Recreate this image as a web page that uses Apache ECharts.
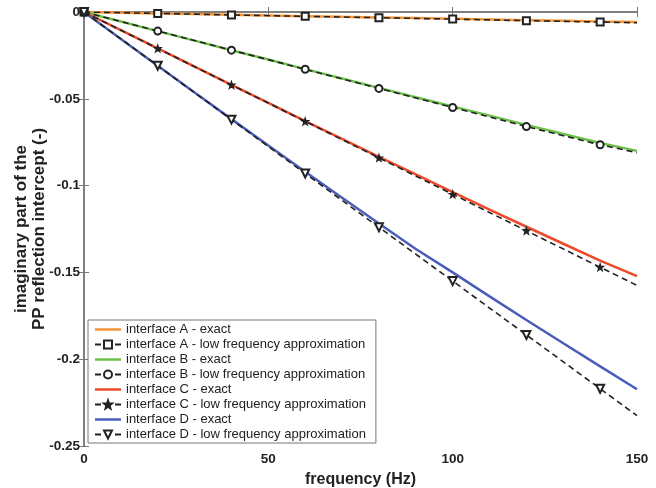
<!DOCTYPE html>
<html>
<head>
<meta charset="utf-8">
<script src="https://cdn.jsdelivr.net/npm/echarts@6/dist/echarts.min.js"></script>
<style>
  html, body { margin: 0; padding: 0; background: #fff; }
  #chart { width: 656px; height: 488px; }
</style>
</head>
<body>
<div id="chart"></div>
<script>
var freqExact = [0, 10, 20, 30, 40, 50, 60, 70, 80, 90, 100, 110, 120, 130, 140, 150];
var freqApprox = [0, 20, 40, 60, 80, 100, 120, 140, 150];

var exactA = [0, -0.0004, -0.0008, -0.0012, -0.0016, -0.002, -0.0024, -0.0028, -0.0031, -0.0035, -0.0039, -0.0043, -0.0047, -0.0051, -0.0055, -0.0058];
var approxA = [0, -0.0008, -0.0017, -0.0025, -0.0033, -0.0041, -0.005, -0.0058, -0.0062];
var exactB = [0, -0.0055, -0.011, -0.0165, -0.022, -0.0274, -0.0329, -0.0383, -0.0437, -0.0491, -0.0544, -0.0597, -0.065, -0.0703, -0.0755, -0.080];
var approxB = [0, -0.011, -0.022, -0.033, -0.044, -0.055, -0.066, -0.0765, -0.081];
var exactC = [0, -0.0105, -0.021, -0.0315, -0.042, -0.0524, -0.0628, -0.0731, -0.0834, -0.0936, -0.1037, -0.1138, -0.1237, -0.1335, -0.1432, -0.1522];
var approxC = [0, -0.021, -0.042, -0.063, -0.084, -0.105, -0.126, -0.147, -0.1575];
var exactD = [0, -0.0155, -0.031, -0.0464, -0.0617, -0.0769, -0.092, -0.107, -0.1218, -0.1365, -0.150, -0.1638, -0.1774, -0.1908, -0.2041, -0.2173];
var approxD = [0, -0.031, -0.062, -0.093, -0.124, -0.155, -0.186, -0.217, -0.2325];

var names = [
  'interface A - exact', 'interface A - low frequency approximation',
  'interface B - exact', 'interface B - low frequency approximation',
  'interface C - exact', 'interface C - low frequency approximation',
  'interface D - exact', 'interface D - low frequency approximation'
];
var colors = ['#F39237', '#6CC04A', '#EE4A2A', '#4A5DB8'];
var starPath = 'path://M0,-10L2.35,-3.24L9.51,-3.09L3.8,1.24L5.88,8.09L0,4L-5.88,8.09L-3.8,1.24L-9.51,-3.09L-2.35,-3.24Z';
var barIcon = 'path://M0,0H26V2.5H0Z';

var fontFam = '"Liberation Sans", Arial, sans-serif';

function pairs(xs, ys) {
  var out = [];
  for (var i = 0; i < xs.length; i++) out.push([xs[i], ys[i]]);
  return out;
}
function approxPts(ys) {
  // markers only on 0..140, the last point at 150 just carries the line
  var out = [];
  for (var i = 0; i < freqApprox.length; i++) {
    if (freqApprox[i] == 150) out.push({value: [freqApprox[i], ys[i]], symbol: 'none'});
    else out.push([freqApprox[i], ys[i]]);
  }
  return out;
}
function exactSeries(name, ys, color) {
  return {
    name: name, type: 'line', data: pairs(freqExact, ys),
    symbol: 'none', itemStyle: {color: color},
    lineStyle: {color: color, width: 2.5}, z: 2, animation: false
  };
}
function approxSeries(name, ys, symbol, size, rotate) {
  return {
    name: name, type: 'line', data: approxPts(ys),
    symbol: symbol, symbolSize: size, symbolRotate: rotate || 0,
    itemStyle: {color: '#222', borderColor: '#222', borderWidth: 1.2},
    lineStyle: {color: '#222', width: 1.6, type: [6, 4]}, z: 3, animation: false
  };
}

var legendData = names.map(function (n, i) {
  return i % 2 == 0 ? {name: n, icon: barIcon} : {name: n};
});

var chart = echarts.init(document.getElementById('chart'));
chart.setOption({
  backgroundColor: '#fff',
  animation: false,
  grid: {left: 84, right: 19, top: 12, bottom: 42, outerBoundsMode: 'none', containLabel: false},
  legend: {
    orient: 'vertical', left: 88, top: 320,
    padding: [2, 10, 1, 6], itemGap: 0,
    itemWidth: 26, itemHeight: 10,
    backgroundColor: '#fff', borderColor: '#777', borderWidth: 1,
    textStyle: {fontFamily: fontFam, fontSize: 13, color: '#222', lineHeight: 15},
    data: legendData
  },
  xAxis: [{
    type: 'value', min: 0, max: 150, interval: 50,
    name: 'frequency (Hz)', nameLocation: 'middle', nameGap: 26, nameMoveOverlap: false,
    nameTextStyle: {fontFamily: fontFam, fontSize: 16, fontWeight: 'bold', color: '#222'},
    axisLine: {lineStyle: {color: '#777', width: 1.5}},
    axisTick: {inside: true, length: 5, lineStyle: {color: '#777'}},
    axisLabel: {fontFamily: fontFam, fontSize: 13.5, fontWeight: 'bold', color: '#222', margin: 6},
    splitLine: {show: false}
  }, {
    type: 'value', min: 0, max: 150, interval: 50, position: 'top',
    axisLine: {lineStyle: {color: '#777', width: 1.5}},
    axisTick: {inside: true, length: 5, lineStyle: {color: '#777'}},
    axisLabel: {show: false}, splitLine: {show: false}
  }],
  yAxis: [{
    type: 'value', min: -0.25, max: 0, interval: 0.05,
    name: 'imaginary part of the\nPP reflection intercept (-)',
    nameLocation: 'middle', nameGap: 36, nameRotate: 90, nameMoveOverlap: false,
    nameTextStyle: {fontFamily: fontFam, fontSize: 17, fontWeight: 'bold', color: '#222', lineHeight: 18},
    axisLine: {lineStyle: {color: '#777', width: 1.5}},
    axisTick: {inside: true, length: 5, lineStyle: {color: '#777'}},
    axisLabel: {fontFamily: fontFam, fontSize: 13.5, fontWeight: 'bold', color: '#222', margin: 4},
    splitLine: {show: false}
  }, {
    type: 'value', min: -0.25, max: 0, interval: 0.05, position: 'right',
    axisLine: {lineStyle: {color: '#777', width: 1.5}},
    axisTick: {inside: true, length: 5, lineStyle: {color: '#777'}},
    axisLabel: {show: false}, splitLine: {show: false}
  }],
  series: [
    exactSeries(names[0], exactA, colors[0]),
    exactSeries(names[2], exactB, colors[1]),
    exactSeries(names[4], exactC, colors[2]),
    exactSeries(names[6], exactD, colors[3]),
    approxSeries(names[1], approxA, 'emptyRect', 7),
    approxSeries(names[3], approxB, 'emptyCircle', 7),
    approxSeries(names[5], approxC, starPath, 7),
    approxSeries(names[7], approxD, 'emptyTriangle', 8, 180)
  ]
});
</script>
</body>
</html>
